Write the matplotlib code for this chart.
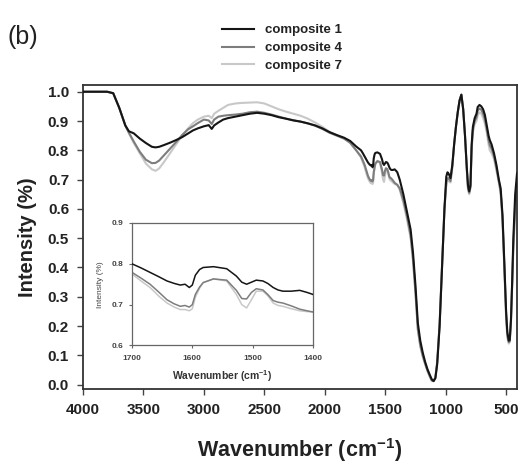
import matplotlib
matplotlib.use("Agg")
import matplotlib.pyplot as plt

plt.rcParams['font.family'] = ['Liberation Sans', 'DejaVu Sans']
plt.rcParams['mathtext.fontset'] = 'custom'
plt.rcParams['mathtext.rm'] = 'Liberation Sans'
plt.rcParams['mathtext.bf'] = 'Liberation Sans:bold'

# wavenumbers (cm-1)
wavenumber = [4000, 3800, 3750, 3700, 3650, 3620, 3580, 3530, 3480, 3430,
              3400, 3370, 3330, 3280, 3230, 3180, 3130, 3090, 3050, 3000,
              2960, 2935, 2915, 2880, 2840, 2800, 2740, 2680, 2620, 2560,
              2500, 2440, 2380, 2320, 2260, 2200, 2140, 2080, 2020, 1960,
              1900, 1840, 1790, 1740,
              1700, 1685, 1670, 1655, 1642, 1630, 1620, 1612, 1605, 1600,
              1595, 1588, 1582, 1565, 1543, 1527, 1518, 1510, 1502, 1494,
              1483, 1475, 1466, 1458, 1450, 1436, 1422, 1410, 1400,
              1380, 1350, 1320, 1290, 1270, 1250, 1230, 1210, 1190, 1170,
              1150, 1130, 1115, 1100, 1085, 1070, 1050, 1030, 1010, 995,
              985, 975, 960, 945, 930, 915, 900, 885, 870, 855,
              840, 825, 815, 805, 795, 785, 775, 760, 745, 735,
              720, 705, 690, 675, 660, 645, 635, 620, 600, 580,
              560, 545, 530, 515, 500, 490, 478, 470, 460, 450,
              440, 425, 410, 400]

composite1 = [1.0, 1.0, 0.995, 0.945, 0.885, 0.865, 0.858, 0.84, 0.825, 0.812,
              0.81, 0.812, 0.818, 0.826, 0.835, 0.845, 0.858, 0.868, 0.875, 0.882,
              0.886, 0.873, 0.885, 0.895, 0.905, 0.91, 0.915, 0.92, 0.925, 0.928,
              0.925, 0.92, 0.913, 0.908, 0.902, 0.898, 0.892, 0.885, 0.875, 0.862,
              0.852, 0.843, 0.832, 0.813,
              0.80, 0.79, 0.779, 0.768, 0.758, 0.752, 0.748, 0.75, 0.742, 0.748,
              0.772, 0.786, 0.791, 0.793, 0.788, 0.77, 0.755, 0.75, 0.755, 0.76,
              0.758, 0.752, 0.742, 0.736, 0.733, 0.733, 0.735, 0.73, 0.725,
              0.70, 0.65, 0.59, 0.53, 0.45, 0.34, 0.21, 0.15, 0.11, 0.078,
              0.052, 0.032, 0.018, 0.012, 0.022, 0.07, 0.2, 0.4, 0.6, 0.71,
              0.725, 0.72, 0.705, 0.75, 0.82, 0.88, 0.93, 0.97, 0.99, 0.94,
              0.85, 0.74, 0.68, 0.66, 0.68, 0.82, 0.88, 0.91, 0.925, 0.948,
              0.955, 0.95, 0.94, 0.92, 0.885, 0.85, 0.835, 0.82, 0.79, 0.75,
              0.70, 0.67, 0.58, 0.42, 0.25, 0.18, 0.15, 0.152, 0.22, 0.35,
              0.50, 0.65, 0.72, 0.73]

composite4 = [1.0, 1.0, 0.995, 0.945, 0.885, 0.86, 0.83, 0.795, 0.768, 0.756,
              0.757, 0.765, 0.783, 0.805, 0.828, 0.852, 0.872, 0.882, 0.893, 0.905,
              0.902, 0.89, 0.905, 0.915, 0.918, 0.92, 0.922, 0.925, 0.93, 0.932,
              0.928, 0.922, 0.915, 0.908, 0.903, 0.898, 0.892, 0.884, 0.873, 0.86,
              0.85, 0.84, 0.826, 0.80,
              0.779, 0.765, 0.75, 0.73, 0.712, 0.702, 0.696, 0.698, 0.694, 0.70,
              0.725, 0.743, 0.754, 0.763, 0.76, 0.735, 0.715, 0.714, 0.73, 0.739,
              0.736, 0.725, 0.71, 0.706, 0.704, 0.697, 0.689, 0.685, 0.682,
              0.67, 0.63, 0.575, 0.51, 0.43, 0.32, 0.19, 0.135, 0.10, 0.072,
              0.048, 0.028, 0.015, 0.012, 0.024, 0.075, 0.205, 0.405, 0.6, 0.69,
              0.705, 0.705, 0.695, 0.745, 0.82, 0.88, 0.93, 0.97, 0.99, 0.94,
              0.85, 0.735, 0.67, 0.655, 0.675, 0.81, 0.87, 0.90, 0.912, 0.935,
              0.943, 0.938, 0.925, 0.905, 0.872, 0.835, 0.818, 0.805, 0.78, 0.74,
              0.695, 0.66, 0.57, 0.41, 0.24, 0.17, 0.145, 0.148, 0.215, 0.34,
              0.48, 0.61, 0.66, 0.67]

composite7 = [1.0, 1.0, 0.995, 0.945, 0.885, 0.858, 0.825, 0.79, 0.755, 0.735,
              0.73, 0.738, 0.76, 0.79, 0.82, 0.85, 0.875, 0.893, 0.905, 0.915,
              0.918, 0.91, 0.925, 0.935, 0.945, 0.955, 0.96, 0.962, 0.963, 0.964,
              0.96, 0.95, 0.94, 0.932, 0.925, 0.918, 0.908, 0.895, 0.88, 0.863,
              0.852, 0.84, 0.825, 0.80,
              0.775, 0.758, 0.742, 0.72, 0.704, 0.694, 0.688, 0.688, 0.685, 0.69,
              0.718, 0.74, 0.754, 0.763, 0.758, 0.725, 0.70, 0.692, 0.712, 0.733,
              0.733, 0.722, 0.704, 0.698, 0.696, 0.69, 0.685, 0.683, 0.682,
              0.665, 0.62, 0.565, 0.50, 0.42, 0.31, 0.185, 0.13, 0.095, 0.07,
              0.045, 0.025, 0.012, 0.012, 0.025, 0.08, 0.21, 0.41, 0.6, 0.68,
              0.695, 0.695, 0.69, 0.74, 0.82, 0.88, 0.93, 0.97, 0.99, 0.94,
              0.85, 0.73, 0.665, 0.65, 0.67, 0.80, 0.86, 0.89, 0.90, 0.92,
              0.93, 0.925, 0.91, 0.89, 0.86, 0.82, 0.80, 0.79, 0.77, 0.73,
              0.69, 0.65, 0.56, 0.40, 0.23, 0.16, 0.14, 0.145, 0.21, 0.33,
              0.46, 0.58, 0.62, 0.63]

labels = ['composite 1', 'composite 4', 'composite 7']
colors = ['#151515', '#7d7d7d', '#c8c8c8']
series = [composite1, composite4, composite7]

main_xticks = [4000, 3500, 3000, 2500, 2000, 1500, 1000, 500]
main_yticks = [0.0, 0.1, 0.2, 0.3, 0.4, 0.5, 0.6, 0.7, 0.8, 0.9, 1.0]
inset_xticks = [1700, 1600, 1500, 1400]
inset_yticks = [0.6, 0.7, 0.8, 0.9]

fig = plt.figure(figsize=(5.2, 4.63), dpi=100)
ax = fig.add_axes([0.1596, 0.1598, 0.8346, 0.6566])

handles = []
for vals, c, lab, z in zip(series, colors, labels, [3, 2, 1]):
    h, = ax.plot(wavenumber, vals, color=c, lw=1.5, label=lab, zorder=z)
    handles.append(h)

ax.set_xlim(4000, 410)
ax.set_ylim(-0.015, 1.023)
ax.set_xticks(main_xticks)
ax.set_yticks(main_yticks)
ax.set_xticklabels([str(t) for t in main_xticks], fontsize=11, fontweight='bold', color='#222')
ax.set_yticklabels(['%.1f' % t for t in main_yticks], fontsize=11, fontweight='bold', color='#222')
ax.tick_params(direction='out', length=4, width=1, color='#444', pad=6)
for s in ax.spines.values():
    s.set_linewidth(1.3)
    s.set_color('#333')
ax.set_xlabel(r'Wavenumber (cm$^{\mathbf{-1}}$)', fontsize=15.5, fontweight='bold', color='#222', labelpad=14)
ax.set_ylabel('Intensity (%)', fontsize=14.5, fontweight='bold', color='#222', labelpad=8)

leg = ax.legend(handles=handles, loc='upper left', bbox_to_anchor=(0.415, 0.962),
                bbox_transform=fig.transFigure, frameon=False, borderpad=0,
                handlelength=2.4, handletextpad=0.85, labelspacing=0.42,
                prop={'size': 9.5, 'weight': 'bold'})
for t in leg.get_texts():
    t.set_color('#222')

fig.text(0.015, 0.905, '(b)', fontsize=18, color='#222')

# inset zoom on 1700-1400
ins = fig.add_axes([0.2538, 0.2538, 0.3481, 0.2646])
for vals, c, z in zip(series, colors, [3, 2, 1]):
    ins.plot(wavenumber, vals, color=c, lw=1.1, zorder=z)
ins.set_xlim(1700, 1400)
ins.set_ylim(0.6, 0.9)
ins.set_xticks(inset_xticks)
ins.set_yticks(inset_yticks)
ins.set_xticklabels([str(t) for t in inset_xticks], fontsize=6, fontweight='bold', color='#444')
ins.set_yticklabels(['%.1f' % t for t in inset_yticks], fontsize=6, fontweight='bold', color='#444')
ins.tick_params(direction='out', length=2.5, width=0.8, color='#666', pad=4)
for s in ins.spines.values():
    s.set_linewidth(0.9)
    s.set_color('#666')
ins.set_xlabel(r'Wavenumber (cm$^{\mathbf{-1}}$)', fontsize=7.5, fontweight='bold', color='#333', labelpad=5)
ins.set_ylabel('Intensity (%)', fontsize=6, color='#444', labelpad=5)

fig.savefig('out.png', dpi=100)
